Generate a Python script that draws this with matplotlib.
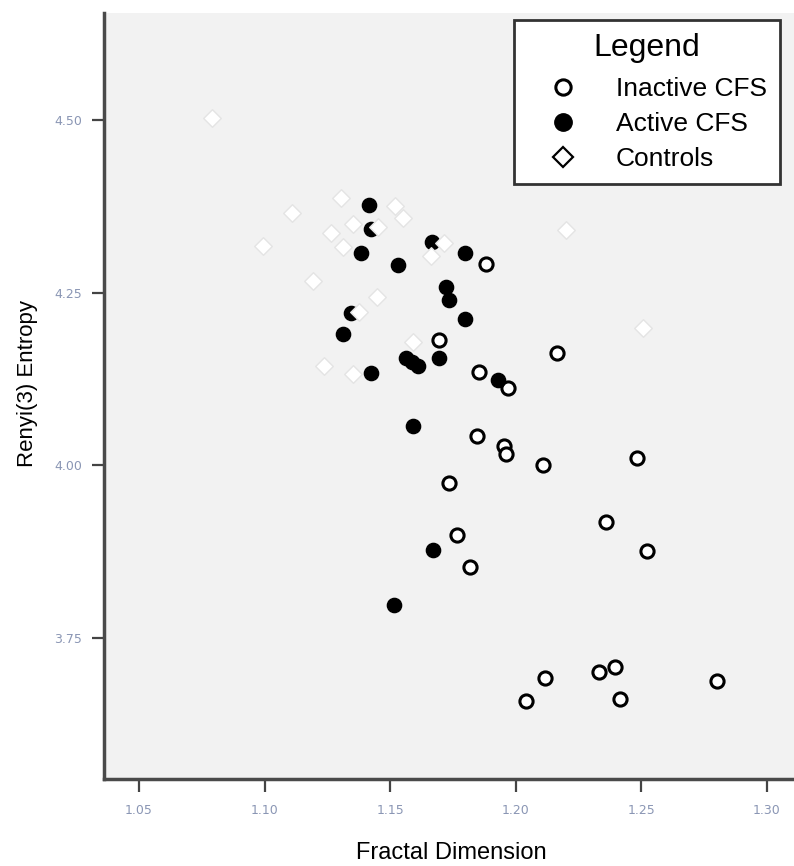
import matplotlib
matplotlib.use("Agg")
import matplotlib.pyplot as plt
from matplotlib.lines import Line2D

# ---- data ----
inactive_x = [1.1881, 1.1694, 1.2164, 1.1854, 1.1969, 1.1846, 1.1953, 1.1961, 1.2108, 1.2482,
              1.1734, 1.2359, 1.1766, 1.2522, 1.1818, 1.2116, 1.2331, 1.2395, 1.2041, 1.2415, 1.2801]
inactive_y = [4.2915, 4.1815, 4.1627, 4.1352, 4.1120, 4.0425, 4.0280, 4.0164, 4.0005, 4.0106,
              3.9744, 3.9180, 3.8992, 3.8760, 3.8528, 3.6921, 3.7008, 3.7080, 3.6588, 3.6617, 3.6878]

active_x = [1.1416, 1.1424, 1.1666, 1.1798, 1.1384, 1.1531, 1.1722, 1.1734, 1.1798, 1.1344,
            1.1312, 1.1563, 1.1587, 1.1611, 1.1694, 1.1424, 1.1929, 1.1591, 1.1670, 1.1515]
active_y = [4.3769, 4.3422, 4.3234, 4.3074, 4.3074, 4.2901, 4.2582, 4.2394, 4.2119, 4.2206,
            4.1902, 4.1554, 4.1496, 4.1438, 4.1554, 4.1337, 4.1236, 4.0570, 3.8774, 3.7978]

control_x = [1.0789, 1.1304, 1.1108, 1.1519, 1.1550, 1.1351, 1.1450, 1.1264, 1.0995, 1.1313,
             1.1715, 1.1661, 1.1194, 1.1446, 1.1377, 1.1592, 1.1238, 1.1351, 1.2505, 1.2200]
control_y = [4.5025, 4.3866, 4.3649, 4.3755, 4.3577, 4.3490, 4.3455, 4.3360, 4.3180, 4.3157,
             4.3215, 4.3035, 4.2669, 4.2442, 4.2225, 4.1790, 4.1438, 4.1323, 4.1984, 4.3407]

x_ticks = [1.05, 1.10, 1.15, 1.20, 1.25, 1.30]
x_tick_labels = ["1.05", "1.10", "1.15", "1.20", "1.25", "1.30"]
y_ticks = [3.75, 4.00, 4.25, 4.50]
y_tick_labels = ["3.75", "4.00", "4.25", "4.50"]

series_labels = ["Inactive CFS", "Active CFS", "Controls"]

# ---- figure ----
W, H = 794, 866
fig = plt.figure(figsize=(W / 100, H / 100), dpi=100)
fig.patch.set_facecolor("white")

ax = fig.add_axes([104 / W, (H - 779) / H, 690 / W, (779 - 13) / H])
ax.set_facecolor("#f2f2f2")
ax.set_xlim(1.0361, 1.3108)
ax.set_ylim(3.546, 4.655)

ms = 90
ax.scatter(inactive_x, inactive_y, s=ms, marker="o", facecolors="white",
           edgecolors="black", linewidths=2.2, zorder=3)
ax.scatter(active_x, active_y, s=ms + 15, marker="o", facecolors="black",
           edgecolors="black", linewidths=1.0, zorder=3)
ax.scatter(control_x, control_y, s=80, marker="D", facecolors="white",
           edgecolors="#e4e4e4", linewidths=1.0, zorder=4)

for side in ("top", "right"):
    ax.spines[side].set_visible(False)
for side in ("left", "bottom"):
    ax.spines[side].set_color("#4a4a4a")
    ax.spines[side].set_linewidth(2.5)

ax.set_xticks(x_ticks)
ax.set_xticklabels(x_tick_labels)
ax.set_yticks(y_ticks)
ax.set_yticklabels(y_tick_labels)
ax.tick_params(axis="both", direction="out", length=9, width=1.6, color="#444444",
               labelcolor="#8a96b4", labelsize=9)
ax.tick_params(axis="x", pad=9)
ax.tick_params(axis="y", pad=7)

ax.set_xlabel("Fractal Dimension", fontsize=17, family="Liberation Sans", color="black")
ax.set_ylabel("Renyi(3) Entropy", fontsize=16, family="Liberation Sans", color="black")
ax.xaxis.set_label_coords((451 - 104) / 690, (779 - 842) / 766)
ax.yaxis.set_label_coords((38 - 104) / 690, (779 - 383) / 766)

handles = [
    Line2D([], [], linestyle="none", marker="o", markersize=11, markerfacecolor="white",
           markeredgecolor="black", markeredgewidth=2.2),
    Line2D([], [], linestyle="none", marker="o", markersize=12.5, markerfacecolor="black",
           markeredgecolor="black"),
    Line2D([], [], linestyle="none", marker="D", markersize=10, markerfacecolor="white",
           markeredgecolor="black", markeredgewidth=1.6),
]
leg = fig.legend(handles, series_labels, loc="upper left",
                 bbox_to_anchor=(514 / W, 1 - 20 / H), bbox_transform=fig.transFigure,
                 title="Legend", fancybox=False, framealpha=1.0, edgecolor="#333333",
                 prop={"family": "Liberation Sans", "size": 19},
                 title_fontproperties={"family": "Liberation Sans", "size": 23},
                 borderpad=0.5, labelspacing=0.42, handletextpad=0.65, handlelength=2.7,
                 borderaxespad=0)
leg.get_frame().set_linewidth(2.0)
leg._legend_box.sep = 10

fig.savefig("out.png", dpi=100)
